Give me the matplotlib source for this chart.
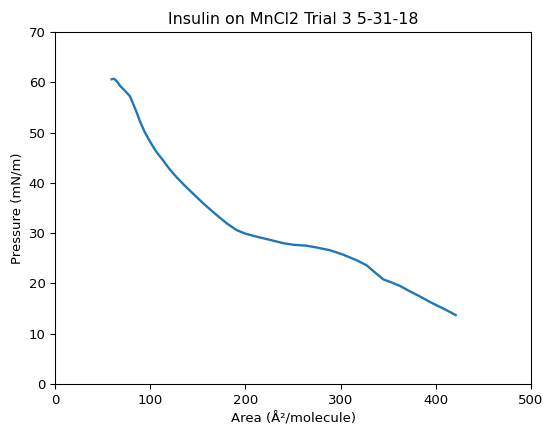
import numpy as np
import matplotlib.pyplot as plt

# isotherm (area, pressure)
area = [59.5, 62.0, 65.0, 68.3, 72.0, 75.5, 78.8, 83.0, 86.0, 89.3, 94.0, 99.8,
        106.0, 113.8, 120.0, 127.8, 136.0, 145.3, 157.0, 169.8, 180.0, 190.8,
        200.0, 211.8, 225.0, 239.8, 250.0, 264.4, 276.0, 288.9, 303.0, 316.9,
        327.4, 336.0, 344.9, 352.0, 362.4, 372.0, 383.4, 395.0, 407.9, 414.0, 420.9]
pressure = [60.6, 60.7, 60.2, 59.3, 58.6, 57.9, 57.2, 55.3, 53.9, 52.2, 50.2, 48.2,
            46.3, 44.4, 42.8, 41.1, 39.5, 37.8, 35.7, 33.6, 32.0, 30.6,
            29.9, 29.3, 28.7, 28.0, 27.7, 27.5, 27.1, 26.6, 25.7, 24.6,
            23.6, 22.2, 20.8, 20.3, 19.5, 18.5, 17.4, 16.2, 15.0, 14.4, 13.7]

s = 0.955  # reference looks like a slightly shrunk default figure
plt.rcParams['font.size'] = 10 * s
plt.rcParams['axes.titlesize'] = 12 * s
plt.rcParams['xtick.major.size'] = 3.5 * s
plt.rcParams['ytick.major.size'] = 3.5 * s
plt.rcParams['axes.linewidth'] = 0.8 * s

fig = plt.figure(figsize=(5.5, 4.29), dpi=100)
ax = fig.add_subplot(111)
fig.subplots_adjust(left=0.1, right=0.9655, top=0.9254, bottom=0.1049)
ax.plot(area, pressure, color='tab:blue', linewidth=1.7)
ax.set_xlim(0, 500)
ax.set_ylim(0, 70)
ax.set_title("Insulin on MnCl2 Trial 3 5-31-18")
ax.set_xlabel("Area (Å²/molecule)")
ax.set_ylabel("Pressure (mN/m)")
plt.savefig("out.png")
